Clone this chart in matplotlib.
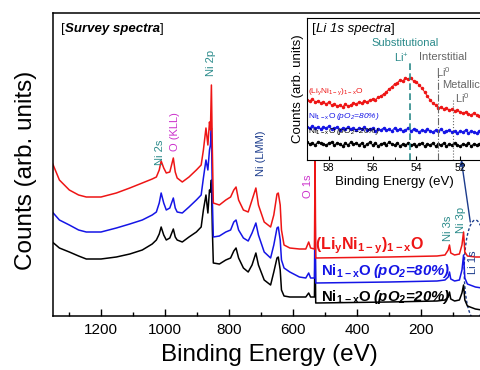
import matplotlib
matplotlib.use('Agg')
import matplotlib.pyplot as plt
import numpy as np
from matplotlib.patches import Ellipse

plt.rcParams['font.family'] = ['Liberation Sans', 'DejaVu Sans']
plt.rcParams['mathtext.default'] = 'regular'

# survey spectra, binding energy (eV) and counts (arb. units)
be = [1352, 1330, 1299, 1270, 1246, 1200, 1152, 1110, 1071, 1040, 1027, 1018, 1012, 1004,
      996, 985, 974, 968, 962, 946, 925, 902, 887, 880, 872, 866, 861, 858, 855, 852,
      849, 830, 810, 795, 785, 778, 770, 755, 740, 728, 716, 708, 690, 670, 660, 650,
      646, 640, 636, 628, 610, 580, 560, 551, 545, 533, 531, 529, 300, 150, 125, 115,
      111, 107, 95, 80, 72, 67, 63, 55, 30, 10, 0]
red = [153, 136, 126, 121, 119, 119, 123, 128, 133, 137, 139, 146, 155, 148,
       143, 144, 158, 144, 138, 134, 139, 146, 151, 166, 188, 171, 194, 186, 231, 166,
       113, 111, 116, 119, 126, 129, 116, 106, 104, 116, 128, 111, 94, 89, 101, 122,
       123, 111, 86, 71, 68, 67, 67, 74, 68, 67, 156, 58, 59, 60, 61, 66,
       71, 63, 61, 62, 71, 84, 64, 60, 59, 59, 59]
blue = [104, 96, 91, 86, 84, 84, 88, 92, 96, 101, 104, 113, 123, 113,
        106, 108, 118, 108, 104, 103, 109, 116, 121, 138, 156, 146, 166, 171, 188, 116,
        79, 80, 84, 86, 94, 96, 86, 78, 75, 83, 93, 81, 64, 58, 71, 88,
        89, 76, 56, 48, 44, 39, 38, 43, 38, 38, 116, 33, 34, 35, 36, 39,
        44, 37, 35, 36, 46, 61, 38, 32, 29, 28, 28]
black = [74, 68, 64, 60, 57, 57, 59, 62, 66, 72, 76, 82, 89, 81,
         76, 78, 87, 79, 76, 74, 79, 84, 89, 106, 121, 103, 126, 124, 136, 86,
         53, 52, 56, 58, 65, 68, 58, 48, 44, 51, 63, 51, 36, 31, 44, 58,
         59, 46, 26, 20, 19, 19, 19, 23, 19, 19, 76, 13, 14, 15, 16, 19,
         24, 17, 15, 16, 23, 31, 16, 10, 7, 6, 6]

# Li 1s region, 59 -> 51 eV in 0.125 eV steps
li_be = np.arange(59.0, 50.99, -0.125)
li_red = [55, 54, 56, 53, 54, 52, 53, 51, 53,
          50, 51, 49, 50, 48, 51, 49, 50,
          52, 51, 53, 52, 54, 53, 55, 56,
          55, 58, 59, 61, 63, 66, 68, 71,
          72, 75, 74, 77, 76, 77, 74, 73,
          70, 67, 63, 59, 55, 52, 50, 47,
          48, 46, 47, 45, 46, 44, 45, 43,
          42, 43, 41, 40, 42, 40, 39, 40]
li_blue = [28, 27, 29, 27, 28, 26, 28, 27, 29,
           26, 27, 28, 25, 27, 26, 28, 26,
           27, 25, 27, 26, 28, 25, 26, 27,
           24, 26, 25, 27, 25, 26, 24, 27,
           25, 26, 24, 25, 27, 24, 26, 25,
           23, 25, 24, 26, 24, 23, 25, 24,
           26, 23, 24, 25, 23, 24, 22, 24,
           23, 25, 22, 24, 23, 22, 24, 23]
li_black = [13, 11, 12, 10, 13, 12, 11, 10, 12,
            13, 10, 12, 11, 9, 12, 10, 13,
            11, 12, 10, 12, 9, 11, 13, 10,
            12, 9, 11, 12, 10, 13, 11, 10,
            12, 9, 11, 10, 12, 10, 11, 9,
            11, 12, 9, 11, 10, 12, 9, 11,
            10, 12, 9, 11, 10, 12, 10, 9,
            11, 10, 12, 9, 11, 10, 11, 10]

RED = '#ee1515'
BLUE = '#1515e6'
TEAL = '#2a8a8a'
MAG = '#cc33cc'
NAVY = '#1c3c8c'
GRAY = '#666666'


def chain(ax, x, y, parts, **kw):
    t = ax.text(x, y, parts[0][0], ha='left', va='bottom', **parts[0][1], **kw)
    for s, st in parts[1:]:
        t = ax.annotate(s, xy=(1, 0), xycoords=t, ha='left', va='bottom', **st, **kw)
    return t


fig = plt.figure(figsize=(4.81, 3.70), dpi=100)
ax = fig.add_axes([53 / 481, 54 / 370, 432 / 481, 303 / 370])

ax.plot(be, black, color='black', lw=1.1)
ax.plot(be, blue, color=BLUE, lw=1.1)
ax.plot(be, red, color=RED, lw=1.1)

ax.set_xlim(1350, 0)
ax.set_ylim(0, 303)
ax.set_yticks([])
ax.set_xticks([1200, 1000, 800, 600, 400, 200])
ax.set_xticks([1300, 1100, 900, 700, 500, 300, 100], minor=True)
ax.tick_params(axis='x', which='major', direction='in', length=5, width=1, labelsize=11, pad=5)
ax.tick_params(axis='x', which='minor', direction='in', length=3, width=1)
for s in ax.spines.values():
    s.set_linewidth(1.1)
ax.set_xlabel('Binding Energy (eV)', fontsize=17.5, labelpad=5)
ax.set_ylabel('Counts (arb. units)', fontsize=17.5)
ax.yaxis.set_label_coords(-0.037, 0.48)

chain(ax, 1324, 281, [('[', {}), ('Survey spectra', dict(fontweight='bold', fontstyle='italic')),
                      (']', {})], fontsize=9.5)

pk = dict(rotation=90, ha='center', va='center', fontsize=8)
ax.text(1017, 164, 'Ni 2s', color=TEAL, **pk)
ax.text(969, 184, 'O (KLL)', color=MAG, **pk)
ax.text(855, 253, 'Ni 2p', color=TEAL, **pk)
ax.text(699, 163, 'Ni (LMM)', color=NAVY, **pk)
ax.text(552, 130, 'O 1s', color=MAG, **pk)
ax.text(117, 88, 'Ni 3s', color=TEAL, **pk)
ax.text(74, 96, 'Ni 3p', color=TEAL, **pk)
ax.text(36, 54, 'Li 1s', color=NAVY, **pk)

ax.text(530, 70, r'(Li$_y$Ni$_{1-y}$)$_{1-x}$O', color=RED, ha='left', va='center',
        fontsize=11.5, fontweight='bold')
lab = dict(fontsize=10.8, fontweight='bold')
chain(ax, 511, 36, [(r'Ni$_{1-x}$O ', {}), (r'(pO$_2$=80%)', dict(fontstyle='italic'))],
      color=BLUE, **lab)
chain(ax, 511, 10, [(r'Ni$_{1-x}$O ', {}), (r'(pO$_2$=20%)', dict(fontstyle='italic'))],
      color='black', **lab)

ax.add_patch(Ellipse((30, 46), 70, 100, fill=False, ls=(0, (2, 1.5)), lw=1, ec=NAVY))
ax.annotate('', xy=(74, 156), xytext=(46, 94),
            arrowprops=dict(arrowstyle='-|>', color=NAVY, lw=1, mutation_scale=8, shrinkA=0, shrinkB=0))

# inset
ax2 = fig.add_axes([307 / 481, (370 - 160) / 370, 175 / 481, 142 / 370])
ax2.plot(li_be, li_black, '-o', color='black', lw=0.7, ms=1.5)
ax2.plot(li_be, li_blue, '-o', color=BLUE, lw=0.7, ms=1.5)
ax2.plot(li_be, li_red, '-o', color=RED, lw=0.7, ms=1.5)
ax2.set_xlim(59, 51)
ax2.set_ylim(-5, 137)
ax2.set_yticks([])
ax2.set_xticks([58, 56, 54, 52])
ax2.set_xticks([57, 55, 53], minor=True)
ax2.tick_params(axis='x', which='major', direction='in', length=3, labelsize=7.5, pad=2)
ax2.tick_params(axis='x', which='minor', direction='in', length=2)
ax2.set_xlabel('Binding Energy (eV)', fontsize=9.5, labelpad=2)
ax2.set_ylabel('Counts (arb. units)', fontsize=9.5, labelpad=2)

ax2.axvline(54.27, ymax=(160 - 62) / 142, color=TEAL, ls=(0, (4, 2)), lw=1.2)
ax2.axvline(53.0, ymax=(160 - 75) / 142, color=GRAY, ls='-.', lw=0.8)
ax2.axvline(52.31, ymax=(160 - 100) / 142, color=GRAY, ls=':', lw=0.8)

chain(ax2, 58.78, 120, [('[', {}), ('Li 1s spectra', dict(fontstyle='italic')), (']', {})], fontsize=9.5)
ax2.text(54.52, 112, 'Substitutional', color=TEAL, fontsize=8, ha='center', va='center')
ax2.text(54.70, 97, r'Li$^{+}$', color=TEAL, fontsize=8, ha='center', va='center')
ax2.text(52.78, 98, 'Interstitial', color=GRAY, fontsize=8, ha='center', va='center')
ax2.text(52.78, 83, r'Li$^{0}$', color=GRAY, fontsize=8, ha='center', va='center')
ax2.text(52.82, 70, 'Metallic', color=GRAY, fontsize=8, ha='left', va='center')
ax2.text(51.9, 57, r'Li$^{0}$', color=GRAY, fontsize=8, ha='center', va='center')

sm = dict(fontsize=6)
ax2.text(58.96, 63, r'(Li$_y$Ni$_{1-y}$)$_{1-x}$O', color=RED, ha='left', va='center', **sm)
chain(ax2, 58.96, 33, [(r'Ni$_{1-x}$O ', {}), (r'(pO$_2$=80%)', dict(fontstyle='italic'))],
      color=BLUE, **sm)
chain(ax2, 58.96, 18, [(r'Ni$_{1-x}$O ', {}), (r'(pO$_2$=20%)', dict(fontstyle='italic'))],
      color='black', **sm)

fig.savefig('out.png', dpi=100)
